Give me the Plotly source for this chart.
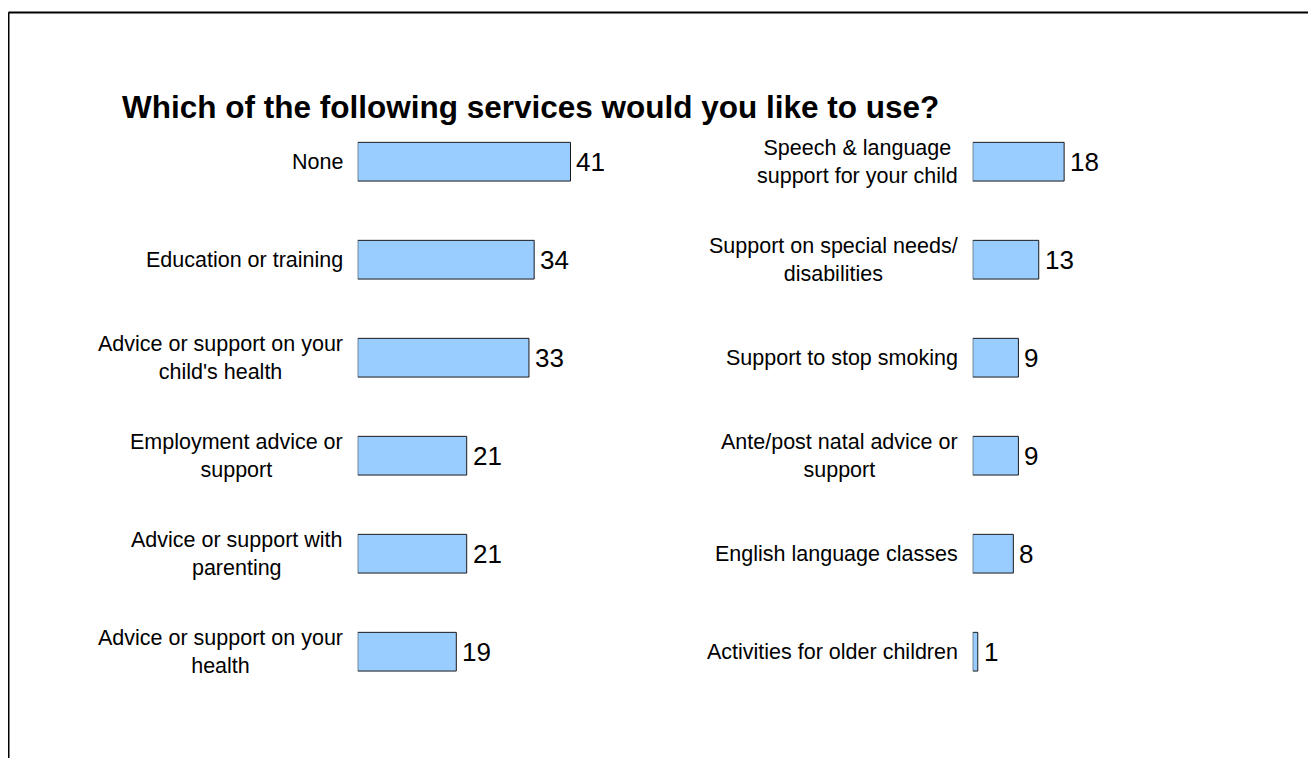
import plotly.graph_objects as go

# ---- data ----
left_labels = [
    "None",
    "Education or training",
    "Advice or support on your<br>child's health",
    "Employment advice or<br>support",
    "Advice or support with<br>parenting",
    "Advice or support on your<br>health",
]
left_values = [41, 34, 33, 21, 21, 19]

right_labels = [
    "Speech & language<br>support for your child",
    "Support on special needs/<br>disabilities",
    "Support to stop smoking",
    "Ante/post natal advice or<br>support",
    "English language classes",
    "Activities for older children",
]
right_values = [18, 13, 9, 9, 8, 1]

title_text = "Which of the following services would you like to use?"

# ---- layout geometry (pixels, page coordinates) ----
W, H = 1316, 758
OFF = 8  # page body margin
FONT = "Liberation Sans, Arial, sans-serif"
BAR_FILL = "#99CCFF"
BAR_LINE = "#1a1a1a"

left_x0, left_x1 = 357.7, 357.7 + 50 * 5.19
right_x0, right_x1 = 972.7, 972.7 + 50 * 5.08
row_top, row_step = 161.7 - 49.0, 98.0
dom_top = row_top
dom_bot = row_top + 6 * row_step

def px(x):
    return (x - OFF) / W

def py(y):
    return 1 - (y - OFF) / H

left_pos = list(range(len(left_values)))
right_pos = list(range(len(right_values)))

fig = go.Figure()
fig.add_trace(go.Bar(
    x=left_values, y=left_pos, orientation="h",
    xaxis="x", yaxis="y", width=0.395,
    marker=dict(color=BAR_FILL, line=dict(color=BAR_LINE, width=1)),
    hoverinfo="skip", showlegend=False,
))
fig.add_trace(go.Bar(
    x=right_values, y=right_pos, orientation="h",
    xaxis="x2", yaxis="y2", width=0.395,
    marker=dict(color=BAR_FILL, line=dict(color=BAR_LINE, width=1)),
    hoverinfo="skip", showlegend=False,
))

annotations = []
for xr, yr, labels, values in (("x", "y", left_labels, left_values),
                               ("x2", "y2", right_labels, right_values)):
    for i, (lab, val) in enumerate(zip(labels, values)):
        annotations.append(dict(
            x=0, y=i, xref=xr, yref=yr, text=lab, showarrow=False,
            xanchor="right", yanchor="middle", align="center", xshift=-13,
            font=dict(family=FONT, size=21.5, color="#000000"),
        ))
        annotations.append(dict(
            x=val, y=i, xref=xr, yref=yr, text=str(val), showarrow=False,
            xanchor="left", yanchor="middle", xshift=4,
            font=dict(family=FONT, size=26, color="#000000"),
        ))

annotations.append(dict(
    x=px(120), y=py(106.5), xref="paper", yref="paper", text="<b>" + title_text + "</b>",
    showarrow=False, xanchor="left", yanchor="middle",
    font=dict(family=FONT, size=31.5, color="#000000"),
))

axis_common = dict(showgrid=False, zeroline=False, showticklabels=False,
                   showline=False, ticks="", fixedrange=True)

fig.update_layout(
    width=W, height=H,
    margin=dict(l=0, r=0, t=0, b=0),
    paper_bgcolor="#ffffff", plot_bgcolor="rgba(0,0,0,0)",
    xaxis=dict(domain=[px(left_x0), px(left_x1)], range=[0, 50], anchor="y", **axis_common),
    yaxis=dict(domain=[py(dom_bot), py(dom_top)], range=[5.5, -0.5], anchor="x", **axis_common),
    xaxis2=dict(domain=[px(right_x0), px(right_x1)], range=[0, 50], anchor="y2", **axis_common),
    yaxis2=dict(domain=[py(dom_bot), py(dom_top)], range=[5.5, -0.5], anchor="x2", **axis_common),
    annotations=annotations,
    shapes=[
        dict(type="line", xref="paper", yref="paper", x0=px(8.5), x1=px(8.5),
             y0=py(12.5), y1=-0.05, line=dict(color="#000000", width=2)),
        dict(type="line", xref="paper", yref="paper", x0=px(8.5), x1=1.05,
             y0=py(12.5), y1=py(12.5), line=dict(color="#000000", width=2)),
    ],
    font=dict(family=FONT),
)

fig.write_html("out.html")
